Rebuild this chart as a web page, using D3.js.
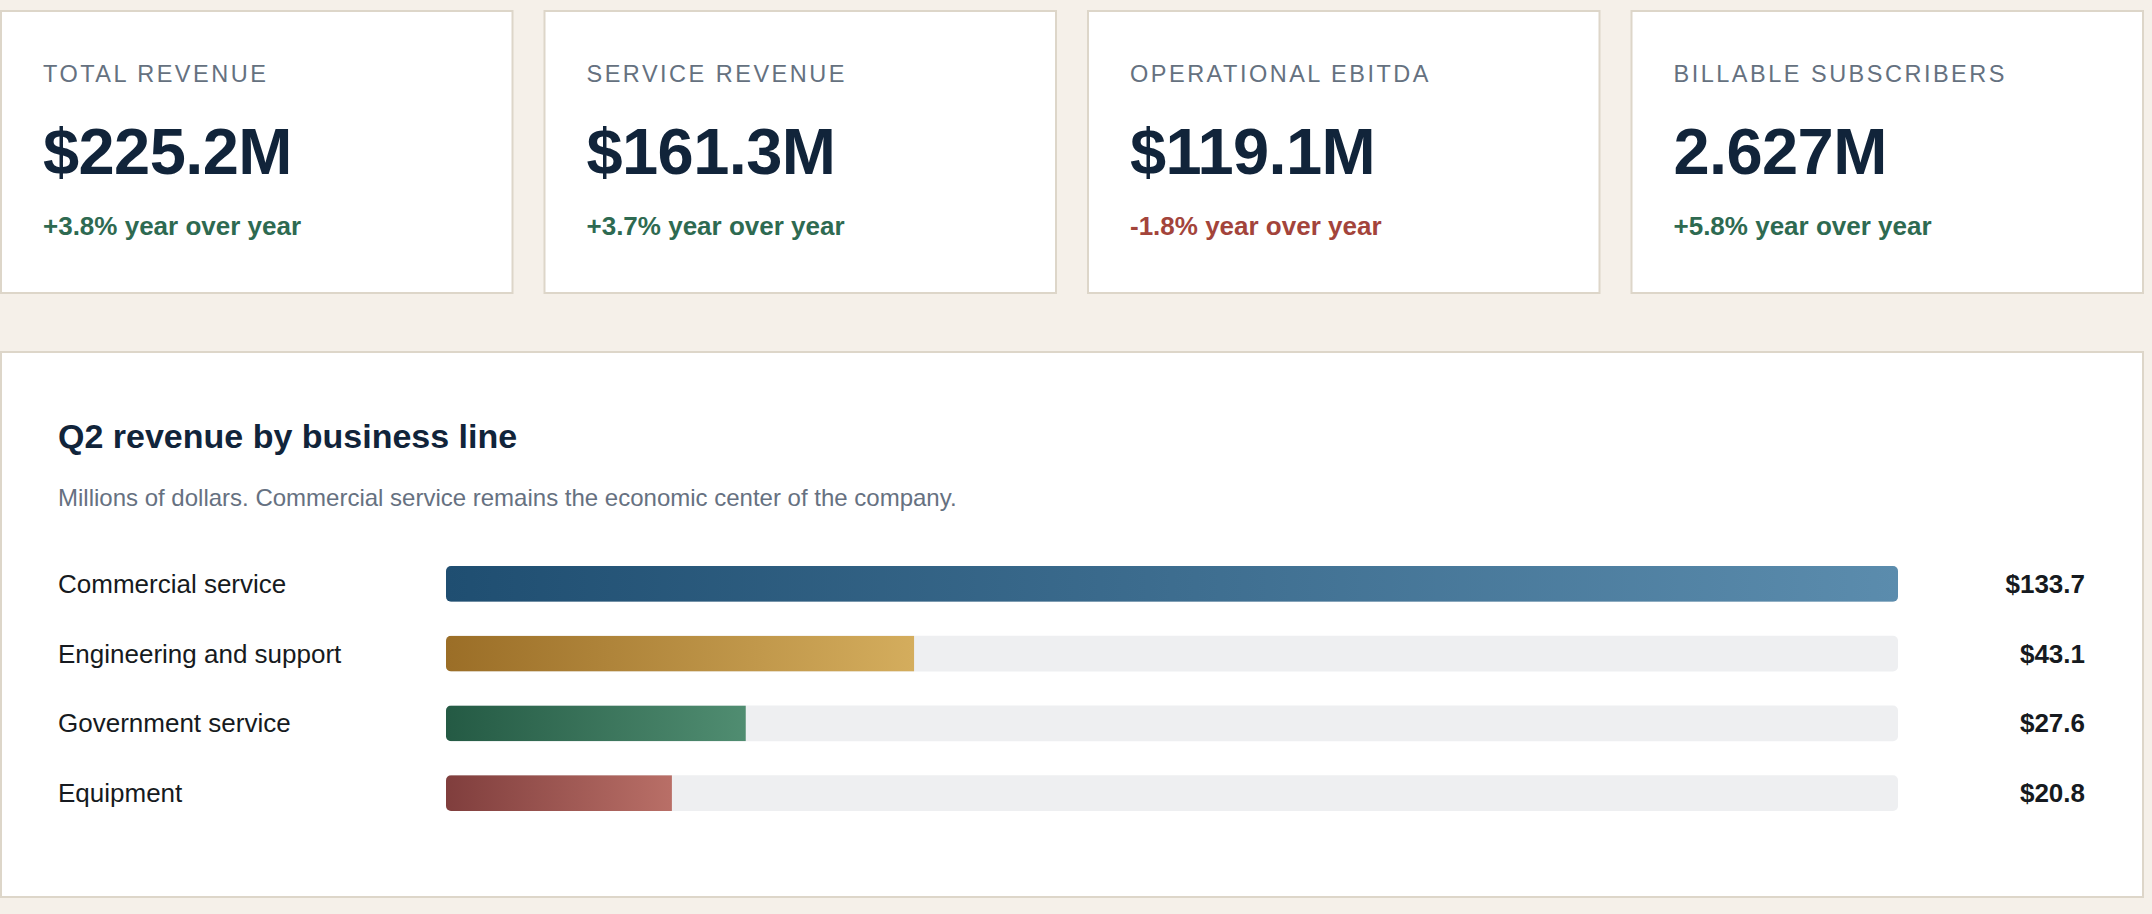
<!DOCTYPE html>
<html>
<head>
    <title>Q2 revenue dashboard</title>
    <script src="https://d3js.org/d3.v7.min.js"></script>
    <style>
        html, body { margin: 0; padding: 0; background: #f5f0e9; }
        svg { display: block; font-family: "Liberation Sans", Arial, Helvetica, sans-serif; }
    </style>
</head>
<body>
<script>
// KPI cards
const kpiLabels = ['TOTAL REVENUE', 'SERVICE REVENUE', 'OPERATIONAL EBITDA', 'BILLABLE SUBSCRIBERS'];
const kpiValues = ['$225.2M', '$161.3M', '$119.1M', '2.627M'];
const kpiChanges = [3.8, 3.7, -1.8, 5.8];

// Revenue by business line (millions of dollars)
const lines = ['Commercial service', 'Engineering and support', 'Government service', 'Equipment'];
const revenue = [133.7, 43.1, 27.6, 20.8];
const lineColors = [
    ['#1f4e71', '#5b8cad'],
    ['#9b6e27', '#d4ad5d'],
    ['#245a44', '#508d71'],
    ['#803e3d', '#b96f67']
];

const W = 2152, H = 914;

const svg = d3.select('body')
    .append('svg')
    .attr('width', W)
    .attr('height', H);

// ---- KPI cards ----
const cardX = d3.scaleBand()
    .domain(kpiLabels)
    .range([0, 2144])
    .paddingInner(0.0552);

const cards = svg.selectAll('g.card')
    .data(kpiLabels.map((label, i) => ({ label, value: kpiValues[i], change: kpiChanges[i] })))
    .enter()
    .append('g')
    .attr('class', 'card')
    .attr('transform', d => `translate(${cardX(d.label)},10)`);

cards.append('rect')
    .attr('x', 1)
    .attr('y', 1)
    .attr('width', cardX.bandwidth() - 2)
    .attr('height', 282)
    .attr('fill', '#fff')
    .attr('stroke', '#ddd6c9')
    .attr('stroke-width', 2);

cards.append('text')
    .attr('x', 43)
    .attr('y', 72)
    .attr('font-size', 23.5)
    .attr('letter-spacing', 2.5)
    .attr('fill', '#657180')
    .text(d => d.label);

cards.append('text')
    .attr('x', 43)
    .attr('y', 164)
    .attr('font-size', 65)
    .attr('font-weight', 'bold')
    .attr('letter-spacing', -0.6)
    .attr('fill', '#11243a')
    .text(d => d.value);

cards.append('text')
    .attr('x', 43)
    .attr('y', 225)
    .attr('font-size', 26)
    .attr('font-weight', 'bold')
    .attr('fill', d => d.change >= 0 ? '#2e6a51' : '#a3443b')
    .text(d => `${d.change >= 0 ? '+' : ''}${d.change.toFixed(1)}% year over year`);

// ---- revenue panel ----
const panel = svg.append('g').attr('transform', 'translate(0,351)');

panel.append('rect')
    .attr('x', 1)
    .attr('y', 1)
    .attr('width', 2142)
    .attr('height', 545)
    .attr('fill', '#fff')
    .attr('stroke', '#ddd6c9')
    .attr('stroke-width', 2);

panel.append('text')
    .attr('x', 58)
    .attr('y', 97)
    .attr('font-size', 34)
    .attr('font-weight', 'bold')
    .attr('fill', '#11243a')
    .text('Q2 revenue by business line');

panel.append('text')
    .attr('x', 58)
    .attr('y', 155)
    .attr('font-size', 24)
    .attr('fill', '#667181')
    .text('Millions of dollars. Commercial service remains the economic center of the company.');

const x = d3.scaleLinear()
    .domain([0, d3.max(revenue)])
    .range([446, 1898]);

const y = d3.scaleBand()
    .domain(lines)
    .range([215, 460])
    .paddingInner(0.486)
    .paddingOuter(0);

const defs = svg.append('defs');

lineColors.forEach((c, i) => {
    const g = defs.append('linearGradient')
        .attr('id', `grad${i}`)
        .attr('x1', '0%').attr('x2', '100%')
        .attr('y1', '0%').attr('y2', '0%');
    g.append('stop').attr('offset', '0%').attr('stop-color', c[0]);
    g.append('stop').attr('offset', '100%').attr('stop-color', c[1]);

    defs.append('clipPath')
        .attr('id', `clip${i}`)
        .append('rect')
        .attr('x', x(0))
        .attr('y', y(lines[i]))
        .attr('width', x(d3.max(revenue)) - x(0))
        .attr('height', y.bandwidth())
        .attr('rx', 5);
});

const rows = panel.selectAll('g.row')
    .data(lines.map((name, i) => ({ name, value: revenue[i], i })))
    .enter()
    .append('g')
    .attr('class', 'row');

// track
rows.append('rect')
    .attr('x', x(0))
    .attr('y', d => y(d.name))
    .attr('width', x(d3.max(revenue)) - x(0))
    .attr('height', y.bandwidth())
    .attr('rx', 5)
    .attr('fill', '#eeeff1');

// bar
rows.append('rect')
    .attr('clip-path', d => `url(#clip${d.i})`)
    .attr('x', x(0))
    .attr('y', d => y(d.name))
    .attr('width', d => x(d.value) - x(0))
    .attr('height', y.bandwidth())
    .attr('fill', d => `url(#grad${d.i})`);

rows.append('text')
    .attr('x', 58)
    .attr('y', d => y(d.name) + y.bandwidth() / 2)
    .attr('dy', '0.35em')
    .attr('font-size', 26)
    .attr('fill', '#161a20')
    .text(d => d.name);

rows.append('text')
    .attr('x', 2085)
    .attr('y', d => y(d.name) + y.bandwidth() / 2)
    .attr('dy', '0.35em')
    .attr('text-anchor', 'end')
    .attr('font-size', 26)
    .attr('font-weight', 'bold')
    .attr('fill', '#161a20')
    .text(d => '$' + d.value.toFixed(1));
</script>
</body>
</html>
